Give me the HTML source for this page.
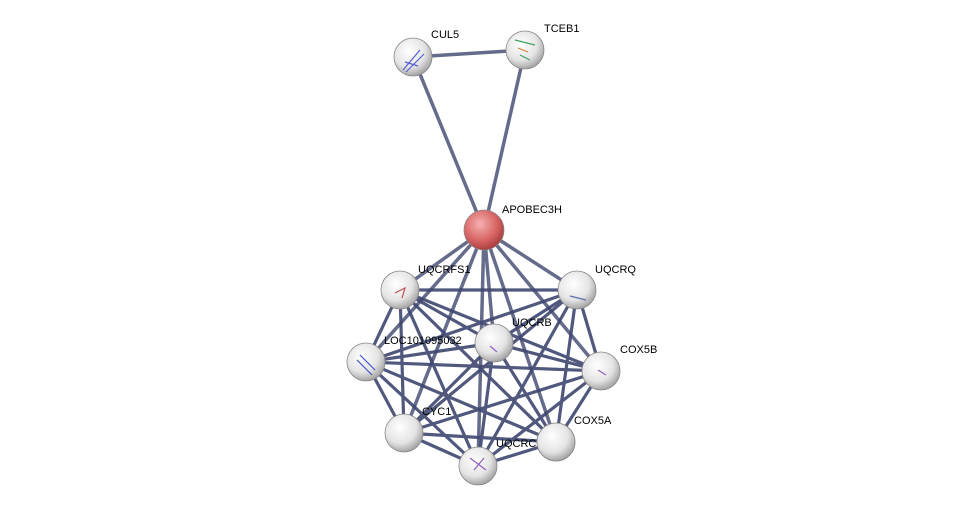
<!DOCTYPE html>
<html><head><meta charset="utf-8"><style>
html,body{margin:0;padding:0;background:#fff;}
svg{display:block;}
text{font-family:"Liberation Sans",sans-serif;font-size:11px;fill:#000;}
</style></head><body>
<svg width="975" height="510" viewBox="0 0 975 510" xmlns="http://www.w3.org/2000/svg">
<defs>
<radialGradient id="g" cx="0.4" cy="0.35" r="0.7">
<stop offset="0" stop-color="#ffffff"/><stop offset="0.6" stop-color="#e4e4e4"/><stop offset="1" stop-color="#9a9a9a"/>
</radialGradient>
<radialGradient id="r" cx="0.4" cy="0.35" r="0.7">
<stop offset="0" stop-color="#f6b0b0"/><stop offset="0.6" stop-color="#d86464"/><stop offset="1" stop-color="#a03838"/>
</radialGradient>
</defs>
<g stroke="#5c6485" stroke-width="3.5" stroke-linecap="round" opacity="0.95">
<line x1="413" y1="57" x2="525" y2="50"/>
<line x1="413" y1="57" x2="484" y2="230"/>
<line x1="525" y1="50" x2="484" y2="230"/>
<!-- APOBEC3H to cluster -->
<line x1="484" y1="230" x2="400" y2="290"/>
<line x1="484" y1="230" x2="577" y2="290"/>
<line x1="484" y1="230" x2="494" y2="343"/>
<line x1="484" y1="230" x2="366" y2="362"/>
<line x1="484" y1="230" x2="601" y2="371"/>
<line x1="484" y1="230" x2="404" y2="433"/>
<line x1="484" y1="230" x2="556" y2="442"/>
<line x1="484" y1="230" x2="478" y2="466"/>
</g>
<g stroke="#3f4670" stroke-width="3.2" stroke-linecap="round" opacity="0.9">
<line x1="400" y1="290" x2="577" y2="290"/>
<line x1="400" y1="290" x2="494" y2="343"/>
<line x1="400" y1="290" x2="366" y2="362"/>
<line x1="400" y1="290" x2="601" y2="371"/>
<line x1="400" y1="290" x2="404" y2="433"/>
<line x1="400" y1="290" x2="556" y2="442"/>
<line x1="400" y1="290" x2="478" y2="466"/>
<line x1="577" y1="290" x2="494" y2="343"/>
<line x1="577" y1="290" x2="366" y2="362"/>
<line x1="577" y1="290" x2="601" y2="371"/>
<line x1="577" y1="290" x2="404" y2="433"/>
<line x1="577" y1="290" x2="556" y2="442"/>
<line x1="577" y1="290" x2="478" y2="466"/>
<line x1="494" y1="343" x2="366" y2="362"/>
<line x1="494" y1="343" x2="601" y2="371"/>
<line x1="494" y1="343" x2="404" y2="433"/>
<line x1="494" y1="343" x2="556" y2="442"/>
<line x1="494" y1="343" x2="478" y2="466"/>
<line x1="366" y1="362" x2="601" y2="371"/>
<line x1="366" y1="362" x2="404" y2="433"/>
<line x1="366" y1="362" x2="556" y2="442"/>
<line x1="366" y1="362" x2="478" y2="466"/>
<line x1="601" y1="371" x2="404" y2="433"/>
<line x1="601" y1="371" x2="556" y2="442"/>
<line x1="601" y1="371" x2="478" y2="466"/>
<line x1="404" y1="433" x2="556" y2="442"/>
<line x1="404" y1="433" x2="478" y2="466"/>
<line x1="556" y1="442" x2="478" y2="466"/>
</g>
<g stroke="#888" stroke-width="0.8">
<circle cx="413" cy="57" r="19" fill="url(#g)"/>
<circle cx="525" cy="50" r="19" fill="url(#g)"/>
<circle cx="484" cy="230" r="20" fill="url(#r)"/>
<circle cx="400" cy="290" r="19" fill="url(#g)"/>
<circle cx="577" cy="290" r="19" fill="url(#g)"/>
<circle cx="494" cy="343" r="19" fill="url(#g)"/>
<circle cx="366" cy="362" r="19" fill="url(#g)"/>
<circle cx="601" cy="371" r="19" fill="url(#g)"/>
<circle cx="404" cy="433" r="19" fill="url(#g)"/>
<circle cx="556" cy="442" r="19" fill="url(#g)"/>
<circle cx="478" cy="466" r="19" fill="url(#g)"/>
</g>
<g stroke-width="1.2" fill="none">
<path d="M403 70 L420 50 M406 72 L424 54 M405 62 L418 66" stroke="#5560d0"/>
<path d="M515 40 L535 45 M520 55 L530 60" stroke="#40a060"/>
<path d="M518 48 L528 52" stroke="#d08030"/>
<path d="M395 293 L405 288 L402 298" stroke="#c05050"/>
<path d="M360 355 L375 370 M357 360 L372 375" stroke="#4050d0"/>
<path d="M470 458 L486 470 M474 470 L484 458" stroke="#9060c0"/>
<path d="M490 346 L497 352" stroke="#9060c0"/>
<path d="M598 370 L606 375" stroke="#9060c0"/>
<path d="M570 296 L586 300" stroke="#6070b0"/>
</g>
<text x="431" y="38">CUL5</text>
<text x="544" y="32">TCEB1</text>
<text x="502" y="213">APOBEC3H</text>
<text x="418" y="273">UQCRFS1</text>
<text x="595" y="273">UQCRQ</text>
<text x="512" y="326">UQCRB</text>
<text x="384" y="344">LOC101095032</text>
<text x="620" y="353">COX5B</text>
<text x="422" y="415">CYC1</text>
<text x="574" y="424">COX5A</text>
<text x="496" y="447">UQCRC</text>
<circle cx="556" cy="442" r="19" fill="url(#g)" stroke="#888" stroke-width="0.8"/>
</svg>
</body></html>
